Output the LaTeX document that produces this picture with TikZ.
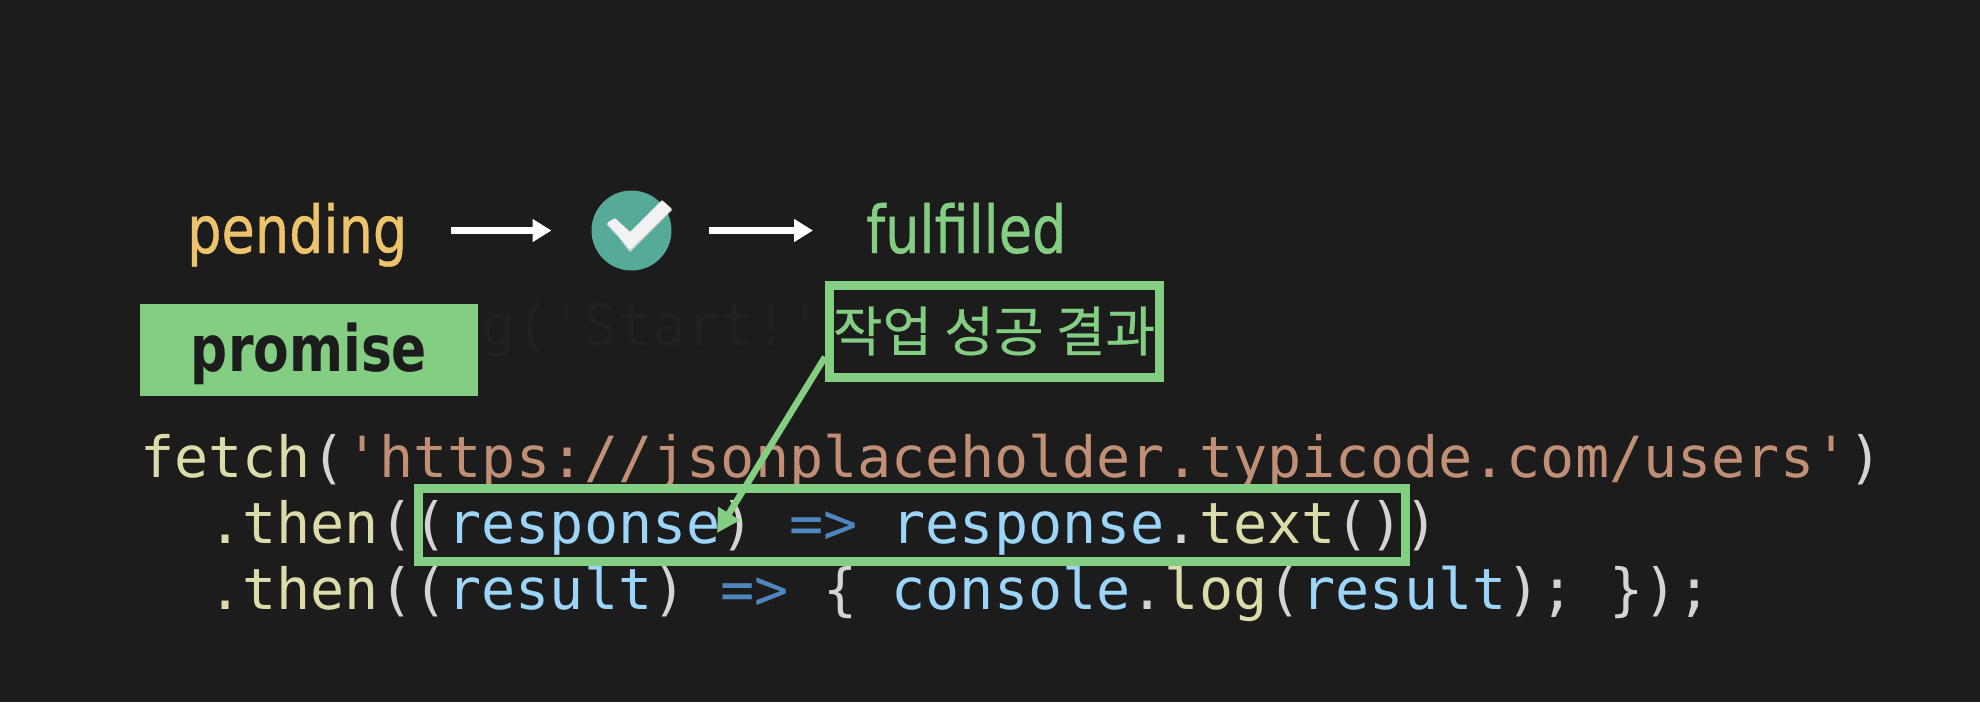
\documentclass[tikz,border=0pt]{standalone}
\usepackage{fontspec}
\usetikzlibrary{arrows.meta}
\setmonofont{DejaVu Sans Mono}
\newfontfamily\labelfont[FakeStretch=0.82,FakeBold=0.6]{DejaVu Sans}
\newfontfamily\boldlabelfont[FakeStretch=0.81]{DejaVu Sans Bold}
\newfontfamily\krfont[FakeBold=0.5]{Noto Sans CJK KR}
\definecolor{bgc}{HTML}{1C1C1C}
\definecolor{grn}{HTML}{84CE84}
\definecolor{amber}{HTML}{EDC36B}
\definecolor{teal}{HTML}{55AB98}
\definecolor{fn}{HTML}{DCDCAA}
\definecolor{str}{HTML}{C08F75}
\definecolor{pun}{HTML}{D4D4D4}
\definecolor{var}{HTML}{9CD5F8}
\definecolor{kw}{HTML}{4F86C0}
\definecolor{faint}{HTML}{222120}
\newcommand{\fn}[1]{\textcolor{fn}{#1}}
\newcommand{\st}[1]{\textcolor{str}{#1}}
\newcommand{\pu}[1]{\textcolor{pun}{#1}}
\newcommand{\va}[1]{\textcolor{var}{#1}}
\newcommand{\kw}[1]{\textcolor{kw}{#1}}
\tikzset{
  codeline/.style={anchor=base west,inner sep=0pt,font=\fontsize{56.75}{60}\ttfamily},
  state/.style={anchor=base west,inner sep=0pt,font=\fontsize{66}{70}\labelfont},
  whitearrow/.style={draw=white,line width=6.5pt,-{Triangle[length=19pt,width=22pt]}},
  greenbox/.style={draw=grn,line width=9pt,outer sep=0pt,inner sep=0pt,anchor=north west},
}
\begin{document}
\begin{tikzpicture}[x=1pt,y=-1pt]
\useasboundingbox (0,0) rectangle (1980,702);
\fill[bgc] (0,0) rectangle (1980,702);
% faint code behind
\node[codeline,text=faint] (ghost) at (481,345) {g('Start!')};
% states
\node[state,text=amber] (pending) at (187,253) {pending};
\node[circle,fill=teal,minimum size=80pt,inner sep=0pt,outer sep=0pt] (ok) at (631.5,230.5) {};
\node[state,text=grn] (done) at (866,253) {fulfilled};
\fill[white!82!black] (607,223) -- (630,252) -- (672,210) -- (672,209) -- (630,250) -- (607,225) -- cycle;
\fill[white!95!black,rounded corners=1pt] (607,223) -- (615,218) -- (630,232) -- (662,200) -- (672,209) -- (630,250) -- cycle;
\draw[whitearrow,shorten <=44pt,shorten >=40pt] (pending.east |- ok) -- (ok.west);
\draw[whitearrow,shorten <=37pt,shorten >=53pt] (ok.east) -- (done.west |- ok);
% promise tag
\node[fill=grn,minimum width=338pt,minimum height=92pt,inner sep=0pt,outer sep=0pt,anchor=north west] (tag) at (140,304) {};
\node[anchor=base,inner sep=0pt,text=bgc,font=\fontsize{64}{70}\boldlabelfont] (tagtext) at (309,371) {promise};
% code
\node[codeline] (l1) at (140,477) {\fn{fetch}\pu{(}\st{'https://jsonplaceholder.typicode.com/users'}\pu{)}};
\node[codeline] (l2) at (208,543) {\fn{.then}\pu{((}\va{response}\pu{)} \kw{=>} \va{response}\pu{.}\fn{text}\pu{())}};
\node[codeline] (l3) at (208,609) {\fn{.then}\pu{((}\va{result}\pu{)} \kw{=>} \pu{\{} \va{console}\pu{.}\fn{log}\pu{(}\va{result}\pu{); \});}};
% highlight boxes
\node[greenbox,minimum width=330pt,minimum height=92pt,fill=bgc] (lbl) at (829,285) {};
\node[inner sep=0pt,text=grn,font=\fontsize{54}{60}\krfont] (lbltext) at (lbl.center) {작업 성공 결과};
\node[greenbox,minimum width=987pt,minimum height=73pt] (hl) at (418,488) {};
\coordinate (tip) at (717,533);
\draw[draw=grn,line width=6.5pt,-{Triangle[length=23pt,width=24pt]}] ([xshift=-4pt,yshift=20pt]lbl.south west) -- (tip);
\end{tikzpicture}
\end{document}
